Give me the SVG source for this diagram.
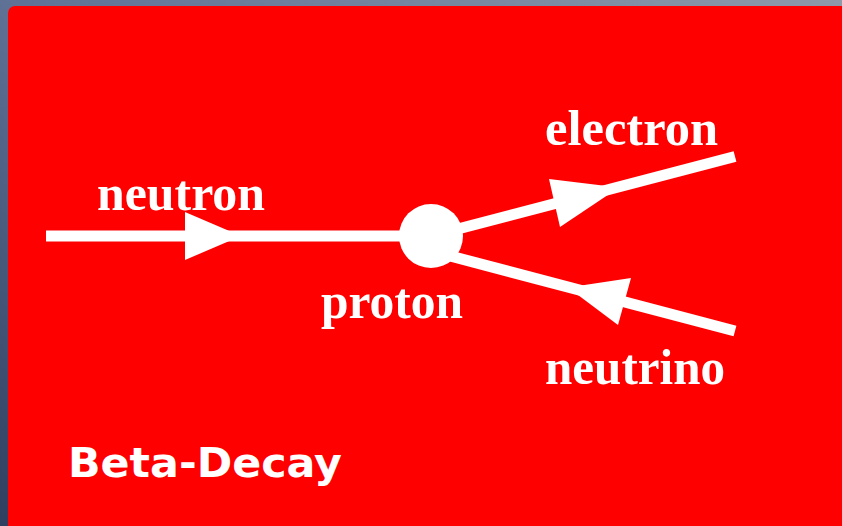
<svg xmlns="http://www.w3.org/2000/svg" width="842" height="526" viewBox="0 0 842 526">
  <defs>
    <linearGradient id="bg" x1="0" y1="1" x2="1" y2="0">
      <stop offset="0" stop-color="#2f3f60"/>
      <stop offset="0.5" stop-color="#5f7296"/>
      <stop offset="1" stop-color="#8e9aaa"/>
    </linearGradient>
    <style>
      .lbl { font-family: "Liberation Serif", "DejaVu Serif", serif; font-weight: bold; font-size: 50px; fill: #ffffff; }
      .title { font-family: "Comic Sans MS", "DejaVu Sans", sans-serif; font-weight: bold; font-size: 40px; fill: #ffffff; }
      .line { stroke: #ffffff; stroke-width: 11; fill: none; }
      .head { fill: #ffffff; }
    </style>
  </defs>
  <rect x="0" y="0" width="842" height="526" fill="url(#bg)"/>
  <rect x="8" y="6" width="850" height="540" rx="7" fill="#ff0000"/>

  <g id="connectors">
    <line class="line" x1="46" y1="236" x2="431" y2="236"/>
    <polygon class="head" points="185,212 241,236 185,260"/>
    <line class="line" x1="431" y1="236" x2="735" y2="156.5"/>
    <polygon class="head" points="549,179 619,187.5 560,227"/>
    <line class="line" x1="435" y1="252" x2="735" y2="331"/>
    <polygon class="head" points="631,278 568,287.5 618,325"/>
  </g>

  <g id="proton">
    <circle cx="431" cy="236" r="32" fill="#ffffff"/>
  </g>

  <g id="neutron-label"><text class="lbl" x="97" y="210" textLength="168" lengthAdjust="spacingAndGlyphs">neutron</text></g>
  <g id="electron-label"><text class="lbl" x="545" y="145" textLength="173" lengthAdjust="spacingAndGlyphs">electron</text></g>
  <g id="proton-label"><text class="lbl" x="321" y="318" textLength="142" lengthAdjust="spacingAndGlyphs">proton</text></g>
  <g id="neutrino-label"><text class="lbl" x="545" y="384" textLength="180" lengthAdjust="spacingAndGlyphs">neutrino</text></g>
  <g id="title"><text class="title" x="68" y="477" textLength="274" lengthAdjust="spacingAndGlyphs">Beta-Decay</text></g>
</svg>
